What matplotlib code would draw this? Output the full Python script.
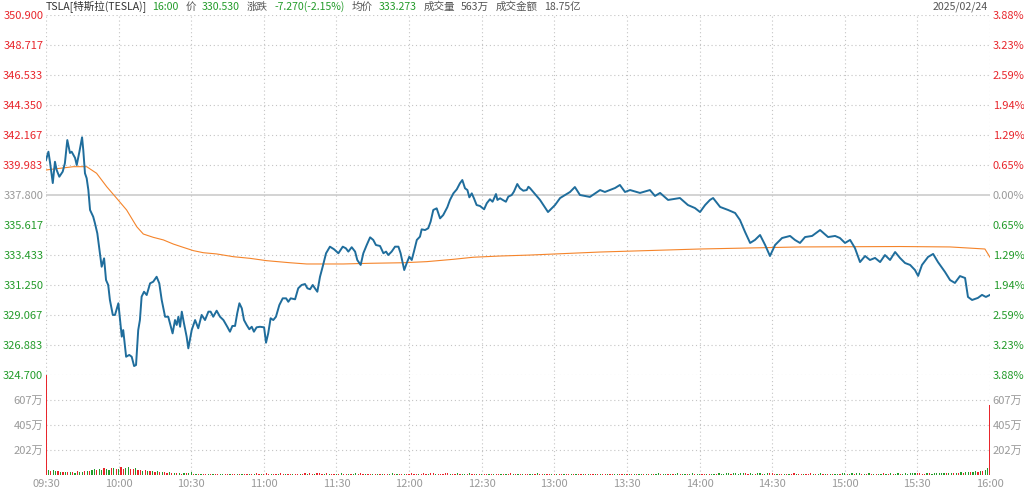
import matplotlib.pyplot as plt
import numpy as np

plt.rcParams['font.family'] = ['Noto Sans CJK SC', 'DejaVu Sans']

# minutes since 09:30 and last price
price_min = [0.0, 1.0, 1.7, 2.8, 3.7, 4.4, 5.5, 6.9, 7.8, 8.8, 9.9, 10.6, 12.0, 12.7, 13.8, 14.9,
             15.4, 16.1, 16.8, 17.5, 18.2, 19.5, 20.2, 21.2, 22.3, 23.0, 24.0, 24.8, 25.7, 26.4,
             27.6, 28.5, 29.9, 30.6, 31.3, 31.9, 33.1, 34.4, 35.4, 36.4, 37.2, 38.1, 38.8, 39.5,
             40.5, 41.6, 43.0, 44.3, 45.7, 46.8, 47.8, 49.2, 50.5, 51.6, 52.3, 53.3, 54.0, 54.7,
             55.4, 56.1, 57.0, 58.1, 58.8, 60.2, 61.6, 62.9, 64.3, 65.7, 67.1, 68.0, 69.1, 70.5,
             71.9, 73.3, 74.9, 76.0, 77.0, 78.1, 79.0, 79.9, 80.9, 81.8, 82.9, 84.0, 85.0, 85.9,
             87.0, 88.4, 90.1, 90.9, 91.8, 92.8, 93.9, 95.0, 96.4, 97.8, 99.2, 100.1, 101.1, 102.9,
             104.2, 105.6, 107.0, 108.0, 109.1, 110.2, 111.1, 112.1, 113.2, 114.3, 115.7, 117.3,
             119.0, 120.8, 122.6, 123.9, 124.9, 126.3, 127.7, 128.6, 130.0, 131.1, 132.5, 133.9,
             135.2, 136.3, 138.0, 139.4, 140.5, 141.4, 142.8, 144.2, 145.6, 146.5, 147.4, 148.0,
             149.0, 150.1, 151.1, 152.0, 153.2, 154.5, 155.2, 156.6, 157.9, 158.9, 160.0, 161.4,
             162.8, 164.1, 165.8, 166.9, 168.3, 169.7, 171.0, 172.0, 173.1, 174.1, 174.9, 175.9,
             176.8, 177.9, 179.3, 181.0, 182.1, 183.4, 184.5, 185.9, 186.5, 187.6, 188.7, 190.0,
             191.0, 192.4, 193.3, 194.7, 195.8, 197.2, 198.6, 199.3, 200.0, 204.1, 207.4, 210.3,
             212.4, 216.5, 218.5, 220.6, 224.7, 228.9, 230.9, 235.1, 237.1, 239.2, 241.3, 245.4,
             249.5, 251.6, 253.7, 257.0, 261.9, 265.2, 268.1, 270.2, 272.3, 274.3, 275.6, 278.5,
             281.8, 284.7, 286.7, 288.8, 290.9, 292.9, 295.0, 297.1, 299.1, 301.2, 304.1, 307.4,
             309.4, 311.5, 313.6, 316.5, 319.8, 323.1, 326.0, 328.0, 330.1, 332.2, 334.2, 336.3,
             338.4, 340.4, 342.5, 344.6, 346.6, 348.7, 350.8, 352.8, 354.9, 357.0, 359.0, 360.3,
             361.9, 364.4, 366.5, 368.5, 371.4, 373.5, 375.5, 377.6, 379.7, 380.9, 382.6, 385.0,
             386.7, 388.3, 390.0]
price_val = [340.35, 340.95, 340.13, 338.67, 340.22, 339.62, 339.13, 339.50, 340.11, 341.80, 340.86,
             340.95, 340.50, 339.98, 340.95, 342.00, 341.07, 339.38, 339.02, 338.16, 336.71, 336.22,
             335.76, 335.01, 333.56, 332.58, 333.19, 331.61, 331.25, 330.16, 329.07, 329.07, 329.92,
             328.70, 327.49, 327.97, 326.03, 326.16, 326.03, 325.35, 325.43, 327.97, 328.70, 330.40,
             330.76, 330.52, 331.37, 331.49, 331.85, 331.37, 330.16, 328.94, 328.94, 328.21, 327.73,
             328.70, 328.34, 328.94, 328.21, 329.31, 328.46, 327.49, 326.64, 327.97, 328.70, 328.10,
             329.07, 328.70, 329.31, 329.31, 328.94, 329.38, 328.94, 328.70, 328.21, 327.85, 328.27,
             328.27, 329.19, 329.92, 329.55, 328.70, 328.34, 328.03, 328.21, 327.85, 328.17, 328.21,
             328.17, 327.05, 327.73, 328.83, 328.70, 328.94, 329.79, 330.28, 330.28, 330.03, 330.28,
             330.21, 331.01, 331.25, 331.32, 331.01, 330.94, 331.25, 331.01, 330.76, 331.85, 332.58,
             333.56, 334.04, 333.85, 333.56, 334.04, 333.92, 333.68, 334.00, 333.68, 333.07, 332.71,
             333.56, 334.16, 334.72, 334.53, 334.16, 334.09, 333.56, 333.68, 333.43, 333.68, 334.04,
             334.04, 333.56, 332.83, 332.34, 332.83, 333.31, 333.07, 333.68, 334.53, 334.77, 335.30,
             335.25, 335.38, 335.86, 336.71, 336.83, 336.10, 336.34, 336.91, 337.44, 337.92, 338.21,
             338.65, 338.89, 338.29, 338.16, 337.63, 337.92, 337.56, 337.07, 337.00, 336.76, 337.20,
             337.49, 337.31, 337.87, 337.44, 337.56, 337.44, 337.31, 337.68, 337.80, 338.04, 338.60,
             338.29, 338.11, 338.16, 338.40, 338.29, 337.44, 336.56, 337.07, 337.58, 338.02, 338.38,
             337.80, 337.66, 338.16, 338.02, 338.31, 338.53, 338.02, 338.16, 337.95, 338.16, 337.73,
             337.95, 337.44, 337.58, 337.07, 336.85, 336.56, 337.07, 337.44, 337.58, 336.93, 336.71,
             336.49, 335.98, 335.11, 334.31, 334.53, 334.89, 334.16, 333.36, 334.16, 334.67, 334.82,
             334.53, 334.31, 334.74, 334.82, 335.25, 334.74, 334.82, 334.67, 334.31, 334.53, 333.94,
             332.92, 333.36, 333.07, 333.22, 332.92, 333.43, 333.07, 333.65, 333.22, 332.85, 332.71,
             332.34, 331.91, 332.71, 333.29, 333.51, 332.92, 332.20, 331.61, 331.40, 331.90, 331.76,
             330.38, 330.16, 330.31, 330.53, 330.38, 330.53]

# average price line
avg_min = [0.0, 11.3, 16.8, 20.9, 25.1, 29.2, 33.3, 37.5, 40.2, 44.3, 48.5, 52.6, 56.7, 60.9, 65.0,
           70.5, 77.4, 84.3, 91.2, 100.8, 107.7, 122.8, 133.9, 147.6, 157.3, 168.3, 176.5, 187.6,
           200.0, 228.9, 270.2, 311.5, 352.8, 373.5, 387.9, 390.0]
avg_val = [339.62, 339.86, 339.86, 339.38, 338.40, 337.56, 336.71, 335.49, 334.96, 334.72, 334.53,
           334.23, 333.99, 333.75, 333.60, 333.51, 333.31, 333.19, 333.02, 332.87, 332.78, 332.78,
           332.83, 332.87, 332.95, 333.12, 333.27, 333.36, 333.43, 333.65, 333.87, 334.02, 334.05,
           334.02, 333.87, 333.27]

# per-minute volume in 万 (positive = up bar, negative = down bar)
vol = [809,
       -42, 35, -38, -32, 30, -26, 28, -24, 26, -22, 27, -20, 30, -28, -24,
       33, -36, 30, -42, -46, 40, -50, -44, 56, -48, -42, 54, -60, 46, -52,
       62, 50, -56, -64, 52, 48, -58, 42, 44, -36, 40, -32, 34, -30, 26,
       -30, 24, -26, 22, 20, -24, 16, -18, 20, -16, 12, -18, 15, -13, -21,
       10, -12, 8, -9, 11, 12, -8, 10, -7, 9, 11, -10, -12, 8, 10,
       -9, 12, 10, -8, 7, -10, 9, 11, -8, 10, -12, 13, 9, -7, 8,
       14, 12, -9, 10, 11, -8, 13, 9, -10, 12, 8, -11, 10, 12, -9,
       11, 15, -10, 13, 9, -12, 16, 14, 12, -10, 13, -11, 9, 12, -8,
       10, -13, 11, 9, -12, 8, -10, -14, 12, 13, 11, -9, 10, 12, -8,
       9, -11, 10, -12, 8, 11, -10, -13, 9, -11, 10, 12, -9, 8, 11,
       13, 12, 10, -9, 11, 14, 12, -10, 15, 13, -12, 11, 9, 12, 14,
       13, -11, 10, 12, -14, 9, -12, -10, 8, -13, 11, 9, -10, 12, -8,
       10, 11, -9, 8, -12, 10, 9, -8, 11, -10, 12, 13, -9, 10, -11,
       9, -12, 8, 10, -11, -9, 8, -13, 10, 11, -9, 12, 10, -8, 9,
       -10, 11, 9, -12, 8, 10, -9, 11, -8, 12, 9, -10, 8, -11, 10,
       9, -8, 12, -10, 11, 9, -12, 10, 8, -9, -11, 10, 9, -8, 12,
       -10, 8, -9, 11, -12, -10, 9, -11, 8, -10, 12, -9, -13, 10, -11,
       -9, 8, -12, 10, -11, -13, 9, -10, -12, 11, -9, -14, 10, -12, -11,
       9, 12, -10, 8, -11, -9, 10, -13, -12, -11, -14, -16, 12, -13, -15,
       -12, -18, -16, 13, 11, -14, -12, 10, -15, -13, 12, -11, -16, 14, 13,
       12, -10, 11, 9, -12, 10, -8, 11, 13, -10, 9, 12, -11, 10, 12,
       14, -12, 10, -11, -13, 9, -12, 10, -11, 8, -10, -12, 11, -13, -15,
       10, -12, -14, 11, -13, -16, 12, -11, 10, -13, 9, -12, 11, -10, -12,
       13, -11, 10, -14, 12, -10, -13, 11, -12, -14, -11, -13, -15, -17, 14,
       13, 12, 11, -14, 16, -12, -15, -13, -16, -18, -14, 13, -17, -20, 15,
       -18, 16, -22, 20, -24, -28, 22, -26, -30, 24, -32, 35, -40, -58, 567]

prev_close = 337.8
y_ticks = [324.700, 326.883, 329.067, 331.250, 333.433, 335.617, 337.800,
           339.983, 342.167, 344.350, 346.533, 348.717, 350.900]
y_labels = ['324.700', '326.883', '329.067', '331.250', '333.433', '335.617', '337.800',
            '339.983', '342.167', '344.350', '346.533', '348.717', '350.900']
pct_labels = ['3.88%', '3.23%', '2.59%', '1.94%', '1.29%', '0.65%', '0.00%',
              '0.65%', '1.29%', '1.94%', '2.59%', '3.23%', '3.88%']
time_ticks = [0, 30, 60, 90, 120, 150, 180, 210, 240, 270, 300, 330, 360, 390]
time_labels = ['09:30', '10:00', '10:30', '11:00', '11:30', '12:00', '12:30',
               '13:00', '13:30', '14:00', '14:30', '15:00', '15:30', '16:00']
vol_ticks = [202, 405, 607]
vol_labels = ['202万', '405万', '607万']

RED = '#e8262c'
GREEN = '#239b2a'
GRAY = '#9a9a9a'
GRID = '#c4c4c4'

fig = plt.figure(figsize=(10.24, 4.91), dpi=100)
W, H = 1024, 491
ax = fig.add_axes([46 / W, 1 - 375 / H, 944 / W, 360 / H])
axv = fig.add_axes([46 / W, 1 - 475 / H, 944 / W, 100 / H], sharex=ax)

def label_color(v):
    if abs(v - prev_close) < 1e-6:
        return GRAY
    return RED if v > prev_close else GREEN

# price panel
ax.set_xlim(0, 390)
ax.set_ylim(y_ticks[0], y_ticks[-1])
for t in y_ticks:
    if t == prev_close:
        ax.axhline(t, color='#d0d0d0', lw=1.3, zorder=1)
    else:
        ax.axhline(t, color=GRID, lw=0.8, ls=(0, (1, 2.5)), zorder=1)
for t in time_ticks:
    ax.axvline(t, color=GRID, lw=0.8, ls=(0, (1, 2.5)), zorder=1)
    axv.axvline(t, color=GRID, lw=0.8, ls=(0, (1, 2.5)), zorder=1)

ax.plot(avg_min, avg_val, color='#f5842a', lw=0.8, zorder=2)
ax.plot(price_min, price_val, color='#1f6d9c', lw=1.4, zorder=3)

ax.set_yticks(y_ticks)
ax.set_yticklabels(y_labels)
ax.tick_params(axis='y', length=0, pad=2, labelsize=8)
ax.tick_params(axis='x', length=0, labelbottom=False)
for lbl, v in zip(ax.get_yticklabels(), y_ticks):
    lbl.set_color(label_color(v))

ax2 = ax.twinx()
ax2.set_ylim(y_ticks[0], y_ticks[-1])
ax2.set_yticks(y_ticks)
ax2.set_yticklabels(pct_labels)
ax2.tick_params(axis='y', length=0, pad=2, labelsize=8)
for lbl, v in zip(ax2.get_yticklabels(), y_ticks):
    lbl.set_color(label_color(v))

# volume panel
minutes = np.arange(len(vol))
vol_arr = np.array(vol)
bar_colors = [RED if v > 0 else GREEN for v in vol]
axv.set_ylim(0, 809)
for t in vol_ticks:
    axv.axhline(t, color=GRID, lw=0.8, ls=(0, (1, 2.5)), zorder=1)
axv.bar(minutes, np.abs(vol_arr), width=0.5, color=bar_colors, zorder=2)
axv.set_yticks(vol_ticks)
axv.set_yticklabels(vol_labels)
axv.tick_params(axis='y', length=0, pad=2, labelsize=8, colors=GRAY,
                right=True, labelright=True)
axv.set_xticks(time_ticks)
axv.set_xticklabels(time_labels)
axv.tick_params(axis='x', length=0, pad=3, labelsize=8, colors=GRAY)

for a in (ax, ax2, axv):
    for s in a.spines.values():
        s.set_visible(False)

# header line, laid out left to right
hy = 1 - 7 / H
header = [
    ('TSLA[特斯拉(TESLA)]', '#333333', 5),
    ('16:00', GREEN, 7),
    ('价', '#555555', 6),
    ('330.530', GREEN, 7),
    ('涨跌', '#555555', 6),
    ('-7.270(-2.15%)', GREEN, 7),
    ('均价', '#555555', 6),
    ('333.273', GREEN, 7),
    ('成交量', '#555555', 6),
    ('563万', '#555555', 7),
    ('成交金额', '#555555', 6),
    ('18.75亿', '#555555', 0),
]
renderer = fig.canvas.get_renderer()
xpos = 46
for txt, c, gap in header:
    t = fig.text(xpos / W, hy, txt, color=c, fontsize=7.6, va='center', ha='left')
    xpos += t.get_window_extent(renderer).width + gap
fig.text(988 / W, hy, '2025/02/24', color='#555555', fontsize=7.6, va='center', ha='right')

plt.savefig('out.png', dpi=100)
plt.close()
